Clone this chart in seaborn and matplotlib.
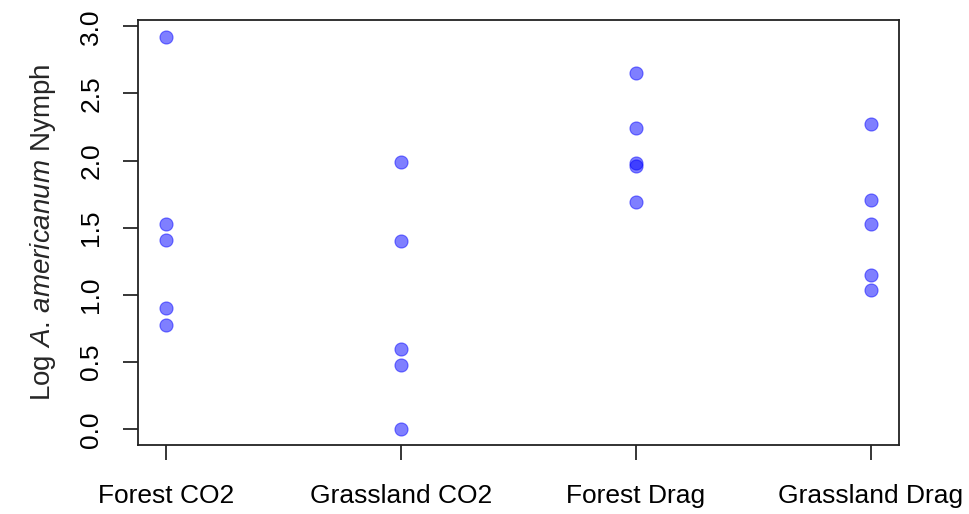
import matplotlib
matplotlib.use("Agg")
import matplotlib.pyplot as plt
import seaborn as sns
import pandas as pd

# --- Data (log nymph counts per site/method) ---
categories = ["Forest CO2", "Grassland CO2", "Forest Drag", "Grassland Drag"]
forest_co2 = [2.92, 1.53, 1.41, 0.90, 0.78]
grassland_co2 = [1.99, 1.40, 0.60, 0.48, 0.00]
forest_drag = [2.65, 2.24, 1.98, 1.96, 1.69]
grassland_drag = [2.27, 1.71, 1.53, 1.15, 1.04]
y_ticks = [0.0, 0.5, 1.0, 1.5, 2.0, 2.5, 3.0]

df = pd.DataFrame({
    "group": [categories[0]] * len(forest_co2) + [categories[1]] * len(grassland_co2)
             + [categories[2]] * len(forest_drag) + [categories[3]] * len(grassland_drag),
    "value": forest_co2 + grassland_co2 + forest_drag + grassland_drag,
})

# --- Style ---
sns.set_theme(style="ticks")
plt.rcParams["font.family"] = ["Liberation Sans", "DejaVu Sans"]
plt.rcParams["mathtext.fontset"] = "custom"
plt.rcParams["mathtext.rm"] = "Liberation Sans"
plt.rcParams["mathtext.it"] = "Liberation Sans:italic"

fig = plt.figure(figsize=(9.69, 5.14), dpi=100)
ax = fig.add_axes([0.1424, 0.1342, 0.7854, 0.8269])

sns.stripplot(data=df, x="group", y="value", order=categories, jitter=False,
              color="blue", alpha=0.5, size=9.4, linewidth=0.8,
              edgecolor="blue", ax=ax)

ax.set_xlim(-0.12, 3.12)
ax.set_ylim(-0.117, 3.047)
ax.set_yticks(y_ticks)
ax.set_yticklabels([f"{v:.1f}" for v in y_ticks], rotation=90, va="center")

ax.tick_params(axis="both", colors="black", labelsize=19, length=11, width=1.1)
ax.tick_params(axis="y", pad=14)
ax.tick_params(axis="x", pad=17)

for side in ["top", "right", "left", "bottom"]:
    ax.spines[side].set_visible(True)
    ax.spines[side].set_color("#222222")
    ax.spines[side].set_linewidth(1.3)

ax.set_xlabel("")
ax.set_ylabel(r"Log $\mathit{A.\,americanum}$ Nymph", fontsize=20, labelpad=15)

plt.savefig("out.png", dpi=100)
